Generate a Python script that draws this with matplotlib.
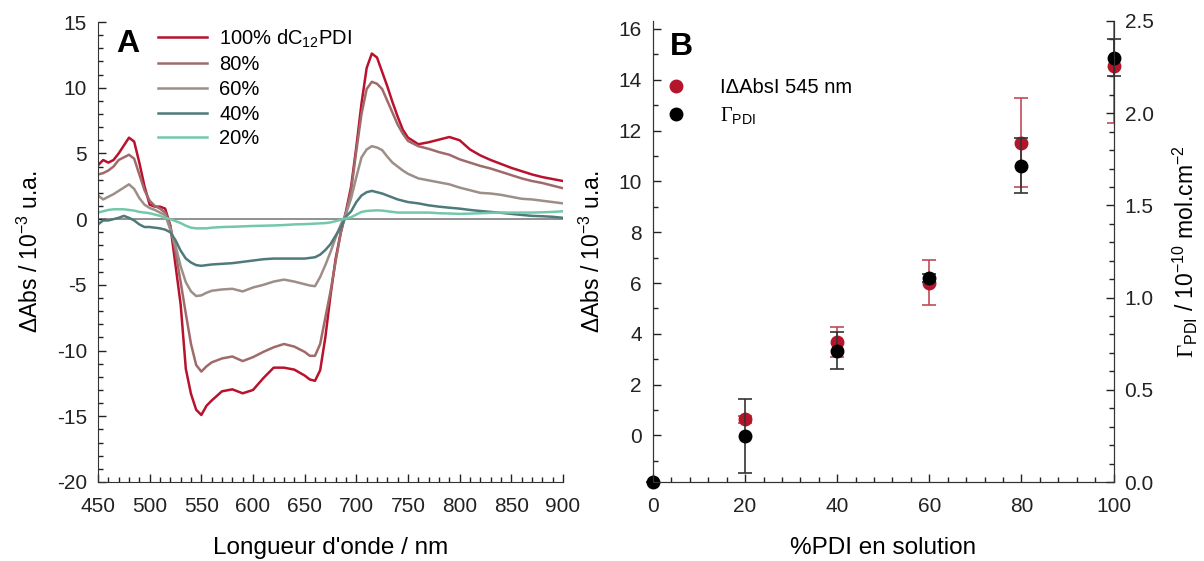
import matplotlib
matplotlib.use('Agg')
import matplotlib.pyplot as plt
from matplotlib.ticker import MultipleLocator, FormatStrFormatter
from matplotlib.lines import Line2D

plt.rcParams['font.family'] = ['Liberation Sans', 'DejaVu Sans']
plt.rcParams['mathtext.fontset'] = 'custom'
plt.rcParams['mathtext.rm'] = 'Liberation Serif'
plt.rcParams['mathtext.sf'] = 'Liberation Sans'
plt.rcParams['axes.edgecolor'] = '#333333'
plt.rcParams['axes.unicode_minus'] = False

# ---- panel A : difference spectra ----
wavelength = [450, 455, 460, 465, 470, 475, 480, 485, 490, 495, 500, 505, 510, 515,
              520, 525, 530, 535, 540, 545, 550, 555, 560, 570, 580, 590, 600, 610,
              620, 630, 640, 650, 655, 660, 665, 670, 675, 680, 685, 690, 695, 700,
              705, 710, 715, 720, 725, 730, 735, 740, 745, 750, 760, 770, 780, 790,
              800, 810, 820, 830, 840, 850, 860, 870, 880, 890, 900]

pdi_100 = [4.1, 4.5, 4.3, 4.5, 5.0, 5.6, 6.2, 5.9, 4.3, 2.5, 1.1, 0.95, 0.95, 0.8,
           -0.5, -3.5, -6.5, -11.4, -13.3, -14.5, -14.9, -14.2, -13.8, -13.1, -12.95,
           -13.25, -13.0, -12.1, -11.3, -11.3, -11.45, -11.9, -12.2, -12.3, -11.5,
           -9.0, -5.8, -3.0, -1.0, 0.6, 2.5, 5.5, 8.8, 11.5, 12.6, 12.3, 11.2, 10.1,
           8.9, 7.8, 6.8, 6.2, 5.7, 5.85, 6.05, 6.25, 6.0, 5.3, 4.85, 4.5, 4.2, 3.9,
           3.65, 3.4, 3.2, 3.05, 2.9]
pdi_80 = [3.4, 3.5, 3.7, 4.0, 4.5, 4.7, 4.9, 4.6, 3.4, 2.2, 1.4, 1.0, 0.8, 0.5,
          -0.5, -2.5, -4.8, -7.2, -9.5, -11.1, -11.6, -11.2, -10.9, -10.6, -10.45,
          -10.8, -10.5, -10.1, -9.75, -9.5, -9.7, -10.1, -10.4, -10.4, -9.5, -7.5,
          -5.5, -3.2, -1.0, 0.5, 2.2, 5.2, 8.0, 9.9, 10.45, 10.3, 9.9, 9.0, 8.1, 7.2,
          6.5, 5.95, 5.55, 5.35, 5.1, 4.9, 4.55, 4.3, 4.05, 3.85, 3.6, 3.35, 3.1,
          2.9, 2.75, 2.55, 2.35]
pdi_60 = [1.8, 1.5, 1.7, 1.9, 2.15, 2.4, 2.65, 2.3, 1.6, 1.1, 0.85, 0.7, 0.5, 0.3,
          -0.8, -2.0, -3.6, -4.8, -5.5, -5.85, -5.8, -5.6, -5.45, -5.35, -5.3, -5.5,
          -5.2, -5.0, -4.75, -4.6, -4.75, -4.95, -5.05, -5.1, -4.4, -3.5, -2.5, -1.4,
          -0.4, 0.4, 1.6, 3.2, 4.7, 5.3, 5.55, 5.45, 5.25, 4.75, 4.3, 4.0, 3.7, 3.45,
          3.1, 2.95, 2.8, 2.65, 2.4, 2.2, 2.0, 1.95, 1.85, 1.7, 1.55, 1.5, 1.4, 1.3,
          1.2]
pdi_40 = [-0.4, -0.1, -0.1, 0.0, 0.1, 0.25, 0.1, -0.1, -0.4, -0.6, -0.6, -0.65, -0.7,
          -0.8, -1.0, -1.6, -2.4, -3.0, -3.3, -3.5, -3.55, -3.5, -3.45, -3.4, -3.35,
          -3.25, -3.15, -3.05, -3.0, -3.0, -3.0, -3.0, -2.95, -2.9, -2.7, -2.35, -1.9,
          -1.25, -0.6, 0.2, 0.6, 1.3, 1.8, 2.05, 2.15, 2.05, 1.95, 1.8, 1.65, 1.5, 1.4,
          1.3, 1.2, 1.05, 0.95, 0.87, 0.8, 0.7, 0.62, 0.55, 0.48, 0.4, 0.32, 0.25,
          0.22, 0.18, 0.1]
pdi_20 = [0.5, 0.6, 0.7, 0.75, 0.75, 0.75, 0.7, 0.65, 0.55, 0.5, 0.45, 0.35, 0.25, 0.1,
          0.0, -0.15, -0.3, -0.5, -0.65, -0.7, -0.7, -0.7, -0.65, -0.6, -0.58, -0.55,
          -0.52, -0.5, -0.48, -0.45, -0.4, -0.38, -0.36, -0.34, -0.32, -0.3, -0.25,
          -0.15, -0.05, 0.05, 0.15, 0.35, 0.55, 0.62, 0.65, 0.67, 0.65, 0.6, 0.55,
          0.5, 0.5, 0.5, 0.5, 0.5, 0.45, 0.43, 0.4, 0.42, 0.45, 0.48, 0.5, 0.5, 0.5,
          0.5, 0.52, 0.55, 0.6]

spectra_labels = [r'100% dC$_{\mathsf{12}}$PDI', '80%', '60%', '40%', '20%']
spectra_colors = ['#b8122e', '#a06a6a', '#9d8e87', '#4e7a7c', '#74c8aa']

# ---- panel B ----
pct_abs = [20, 40, 60, 80, 100]
dabs_545 = [0.63, 3.67, 6.01, 11.52, 14.54]
dabs_err = [0.12, 0.58, 0.88, 1.75, 2.26]

pct_gamma = [0, 20, 40, 60, 80, 100]
gamma_pdi = [0.0, 0.25, 0.713, 1.106, 1.716, 2.30]
gamma_err = [0.0, 0.2, 0.102, 0.02, 0.15, 0.1]

red = '#b5152b'

fig = plt.figure(figsize=(12.04, 5.61), dpi=100)
axA = fig.add_axes([98 / 1204, 1 - 482 / 561, 465 / 1204, 460 / 561])
axB = fig.add_axes([653 / 1204, 1 - 482 / 561, 460.5 / 1204, 461 / 561])

tick_kw = dict(direction='in', labelsize=15, width=1, colors='#222222')
minor_kw = dict(which='minor', length=3.5, direction='in', width=1, colors='#222222')

# ---- A ----
axA.hlines(0, 450, 900, color='#888888', lw=1.3, zorder=1)
for vals, lab, col in zip([pdi_100, pdi_80, pdi_60, pdi_40, pdi_20],
                          spectra_labels, spectra_colors):
    axA.plot(wavelength, vals, color=col, lw=1.8, label=lab)
axA.set_xlim(450, 900)
axA.set_ylim(-20, 15)
axA.xaxis.set_major_locator(MultipleLocator(50))
axA.xaxis.set_minor_locator(MultipleLocator(10))
axA.yaxis.set_major_locator(MultipleLocator(5))
axA.yaxis.set_minor_locator(MultipleLocator(1))
axA.tick_params(which='major', length=6, **tick_kw)
axA.tick_params(axis='x', pad=11)
axA.tick_params(axis='y', pad=8)
axA.tick_params(**minor_kw)
for s in ['top', 'right']:
    axA.spines[s].set_visible(False)
axA.set_xlabel("Longueur d'onde / nm", fontsize=17.5, labelpad=15)
axA.set_ylabel(r'ΔAbs / 10$^{\mathsf{-3}}$ u.a.', fontsize=16.5, labelpad=10)
axA.text(0.065, 0.985, 'A', transform=axA.transAxes, fontsize=23,
         fontweight='bold', ha='center', va='top')
axA.legend(loc='upper left', bbox_to_anchor=(0.129, 0.988), frameon=False,
           fontsize=14.5, handlelength=2.45, handletextpad=0.6, labelspacing=0.28,
           borderpad=0, borderaxespad=0)

# ---- B ----
axB2 = axB.twinx()
eb_r = axB.errorbar(pct_abs, dabs_545, yerr=dabs_err, fmt='o', color=red, ms=9,
                    ecolor='#c24a58', elinewidth=1.2, capsize=5, capthick=1.2)
eb_r[0].set_clip_on(False)
eb_k = axB2.errorbar(pct_gamma, gamma_pdi, yerr=gamma_err, fmt='o', color='black',
                     ms=9, ecolor='#333333', elinewidth=1.2, capsize=5, capthick=1.2)
eb_k[0].set_clip_on(False)
for c in eb_k[1]:
    c.set_clip_on(False)

axB.set_xlim(0, 100)
axB.set_ylim(-1.83, 16.31)
axB2.set_ylim(0, 2.5)
axB.xaxis.set_major_locator(MultipleLocator(20))
axB.xaxis.set_minor_locator(MultipleLocator(4))
axB.yaxis.set_major_locator(MultipleLocator(2))
axB.yaxis.set_minor_locator(MultipleLocator(1))
axB2.yaxis.set_major_locator(MultipleLocator(0.5))
axB2.yaxis.set_minor_locator(MultipleLocator(0.1))
axB2.yaxis.set_major_formatter(FormatStrFormatter('%.1f'))
for a in (axB, axB2):
    a.tick_params(which='major', length=6, **tick_kw)
    a.tick_params(axis='y', pad=8)
    a.tick_params(**minor_kw)
    a.spines['top'].set_visible(False)
axB.tick_params(axis='x', pad=11)
axB.set_xlabel('%PDI en solution', fontsize=17.5, labelpad=15)
axB.set_ylabel(r'ΔAbs / 10$^{\mathsf{-3}}$ u.a.', fontsize=16.5, labelpad=10)
axB2.set_ylabel(r'$\Gamma_{\mathsf{PDI}}$ / 10$^{\mathsf{-10}}$ mol.cm$^{\mathsf{-2}}$',
                fontsize=16.5, labelpad=12)
axB.text(0.061, 0.977, 'B', transform=axB.transAxes, fontsize=23,
         fontweight='bold', ha='center', va='top')

handles = [Line2D([], [], ls='none', marker='o', ms=9, color=red),
           Line2D([], [], ls='none', marker='o', ms=9, color='black')]
axB2.legend(handles, ['IΔAbsI 545 nm', r'$\Gamma_{\mathsf{PDI}}$'],
            loc='upper left', bbox_to_anchor=(0.028, 0.876), frameon=False,
            fontsize=14.5, handlelength=1.0, handletextpad=1.7, labelspacing=0.4,
            borderpad=0, borderaxespad=0, numpoints=1)

fig.savefig('out.png', dpi=100)
